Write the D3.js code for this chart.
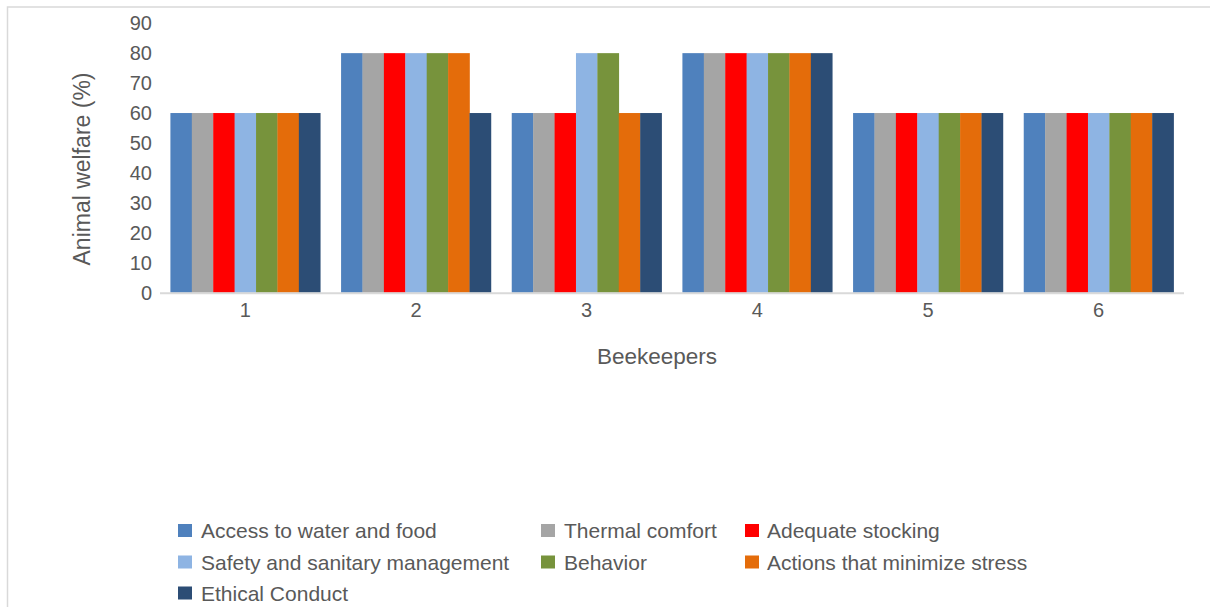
<!DOCTYPE html>
<html><head><meta charset="utf-8">
<script src="https://cdn.jsdelivr.net/npm/d3@7"></script>
<style>body{margin:0;background:#fff}svg{display:block}text{font-family:"Liberation Sans",Arial,sans-serif;fill:#595959}</style>
</head><body><svg id="c" width="1210" height="607"></svg>
<script>
const categories = ["1","2","3","4","5","6"];
const seriesNames = ["Access to water and food","Thermal comfort","Adequate stocking","Safety and sanitary management","Behavior","Actions that minimize stress","Ethical Conduct"];
const accessWaterFood = [60,80,60,80,60,60];
const thermalComfort = [60,80,60,80,60,60];
const adequateStocking = [60,80,60,80,60,60];
const safetySanitary = [60,80,80,80,60,60];
const behavior = [60,80,80,80,60,60];
const actionsStress = [60,80,60,80,60,60];
const ethicalConduct = [60,60,60,80,60,60];
const yTicks = [0,10,20,30,40,50,60,70,80,90];
const colors = ["#4F81BD","#A5A5A5","#FF0000","#8EB4E3","#77933C","#E46C0A","#2C4D75"];
const seriesValues = [accessWaterFood,thermalComfort,adequateStocking,safetySanitary,behavior,actionsStress,ethicalConduct];

const svg = d3.select("#c");
svg.append("rect").attr("x",7.5).attr("y",7).attr("width",1220).attr("height",620)
  .attr("fill","none").attr("stroke","#d9d9d9").attr("stroke-width",1.5);

const L=160,R=1184,T=23.2,B=292.7;
const x = d3.scaleBand().domain(categories).range([L,R]).paddingInner(0.122).paddingOuter(0.061);
const xs = d3.scaleBand().domain(d3.range(seriesNames.length)).range([0,x.bandwidth()]);
const y = d3.scaleLinear().domain([0,90]).range([B,T]);

// bars
seriesValues.forEach((vals,si)=>{
  svg.append("g").selectAll("rect").data(vals).join("rect")
    .attr("x",(d,i)=>x(categories[i])+xs(si))
    .attr("width",xs.bandwidth()+0.3)
    .attr("y",d=>y(d)).attr("height",d=>B-y(d))
    .attr("fill",colors[si]);
});

// x axis line
svg.append("line").attr("x1",L).attr("x2",R).attr("y1",B+0.5).attr("y2",B+0.5)
  .attr("stroke","#d9d9d9").attr("stroke-width",2);

// y ticks
const ya = d3.axisLeft(y).tickValues(yTicks).tickSize(0).tickPadding(8);
const gy = svg.append("g").attr("transform",`translate(${L},0)`).call(ya);
gy.select(".domain").remove();
gy.selectAll("text").style("font-size","20px").attr("fill","#595959").attr("font-family","Liberation Sans, Arial, sans-serif");

// x ticks
const xa = d3.axisBottom(x).tickSize(0).tickPadding(10);
const gx = svg.append("g").attr("transform",`translate(0,${B})`).call(xa);
gx.select(".domain").remove();
gx.selectAll("text").style("font-size","20px").attr("fill","#595959").attr("font-family","Liberation Sans, Arial, sans-serif");

// axis titles
svg.append("text").attr("x",657).attr("y",364).attr("text-anchor","middle").style("font-size","22.5px").text("Beekeepers");
svg.append("text").attr("transform","translate(90,169) rotate(-90)").attr("text-anchor","middle").style("font-size","23px").text("Animal welfare (%)");

// legend
const legX = [[178,201],[541,564],[745,767]];
const legY = [530.5,562,593];
seriesNames.forEach((n,i)=>{
  const [mx,tx]=legX[i%3];
  const ly=legY[Math.floor(i/3)];
  svg.append("rect").attr("x",mx).attr("y",ly-6.5).attr("width",14).attr("height",13).attr("fill",colors[i]);
  svg.append("text").attr("x",tx).attr("y",ly+7.5).style("font-size","21px").text(n);
});
</script></body></html>
